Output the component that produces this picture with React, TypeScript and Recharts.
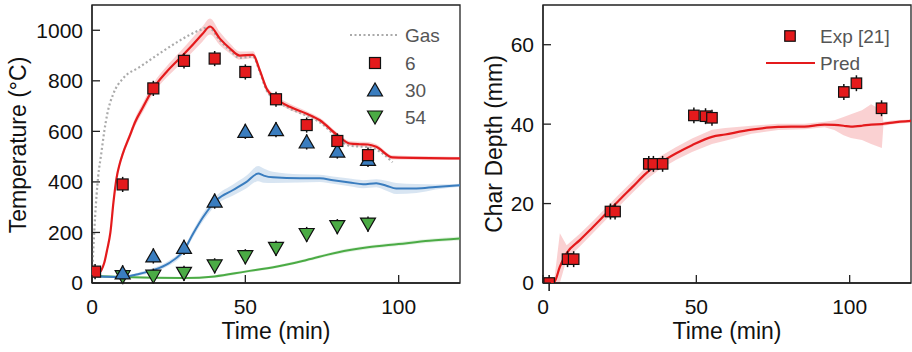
import React from 'react';
import { ComposedChart, Line, Area, Scatter, XAxis, YAxis, ErrorBar, ReferenceArea } from 'recharts';

const FONT = '"Liberation Sans", Arial, Helvetica, sans-serif';
const AXIS = '#222';
const RED = '#e41a1c';
const BLUE = '#3a7dbf';
const GREEN = '#4bab45';
const GAS = '#aaaaaa';

// ---- left panel: temperature ----
const redExpT = [1, 10, 20, 30, 40, 50, 60, 70, 80, 90];
const redExpV = [45, 390, 770, 879, 888, 835, 727, 625, 562, 506];
const blueExpT = [10, 20, 30, 40, 50, 60, 70, 80, 90];
const blueExpV = [40, 107, 141, 324, 600, 607, 558, 522, 489];
const greenExpT = [10, 20, 30, 40, 50, 60, 70, 80, 90];
const greenExpV = [25, 27, 38, 68, 104, 137, 192, 223, 233];
const tempErr = 30;

const gasT = [0, 0.5, 1, 2, 3, 4, 5, 7, 10, 15.6, 22, 28.7, 35, 38, 41.7, 45, 48.2, 52.5, 54.7, 56.9, 60, 64.5, 70, 74.3, 80, 84, 87.3, 90, 92.7, 98];
const gasV = [30, 150, 260, 420, 510, 600, 670, 750, 808, 855, 908, 960, 1000, 1012, 960, 920, 891, 896, 836, 763, 724, 690, 662, 636, 576, 543, 540, 538, 528, 478];

const redT = [0, 2, 3, 4, 5, 6, 7, 8, 9, 10, 12.4, 14, 16.7, 20, 24.3, 28.7, 33, 36, 38.5, 41.7, 45, 48.2, 52.5, 54.7, 56.9, 60, 64.5, 70, 74.3, 80, 84, 87.3, 90, 92.7, 98, 120];
const redV = [28, 38, 50, 80, 135, 200, 320, 415, 470, 510, 585, 635, 697, 770, 835, 890, 945, 985, 1015, 967, 928, 900, 903, 842, 770, 730, 697, 670, 644, 585, 552, 549, 548, 539, 497, 493];
const redW = [8, 8, 8, 8, 10, 10, 12, 12, 12, 12, 14, 16, 18, 20, 22, 25, 28, 30, 32, 26, 20, 16, 14, 12, 12, 12, 12, 10, 10, 10, 10, 10, 10, 10, 8, 6];

const blueT = [0, 5, 10, 15, 20, 25, 30, 33, 36.3, 40.6, 46, 50.4, 54.2, 56, 59, 67.8, 74.3, 78.6, 84, 88.4, 92.7, 96, 99.2, 105.8, 112, 120];
const blueV = [28, 25, 24, 35, 51, 78, 130, 196, 262, 328, 368, 400, 433, 425, 418, 414, 414, 407, 398, 391, 395, 385, 374, 374, 380, 387];
const blueW = [4, 4, 5, 6, 8, 10, 12, 14, 16, 18, 22, 25, 30, 28, 22, 16, 14, 14, 15, 16, 16, 20, 22, 18, 10, 6];

const greenT = [0, 10, 20, 30, 40, 50, 60, 70, 80, 90, 100, 110, 120];
const greenV = [28, 24, 21, 20, 26, 45, 64, 91, 121, 141, 154, 167, 176];
const greenW = [4, 4, 4, 4, 5, 5, 6, 6, 7, 7, 8, 8, 8];

const tempTicks = [0, 200, 400, 600, 800, 1000];
const timeTicks = [0, 50, 100];

// ---- right panel: char depth ----
const charExpT = [2, 8, 10, 22, 23.5, 34.5, 36, 39, 49.2, 53, 55.1, 98.1, 102.2, 110.4];
const charExpV = [0, 6, 6, 18, 18, 30, 30, 30, 42.2, 42, 41.6, 48.1, 50.3, 44];
const charErr = 2;

const charT = [0, 2, 3.7, 5.5, 7.7, 12, 16.3, 20.6, 24.9, 29.2, 33.6, 37.9, 43.3, 48.6, 55.1, 59.4, 68, 76.7, 85.3, 91.8, 95, 98, 100.4, 104, 107, 110.5, 111, 114, 120];
const charV = [0, 0, 0.3, 4.1, 7.5, 10.8, 14.1, 17.5, 20.9, 24.2, 27.6, 30.1, 32.6, 34.7, 36.8, 37.4, 38.6, 39.3, 39.4, 39.9, 39.8, 39.6, 39.4, 39.6, 39.9, 40.0, 40.1, 40.4, 40.8];
const charLow = [0, 0, 0, 0, 6.0, 9.2, 12.6, 16.0, 19.4, 22.7, 26.0, 28.5, 31.0, 33.0, 35.0, 35.8, 37.6, 38.5, 38.7, 39.2, 38.5, 37.2, 36.5, 36, 35, 34, 39.6, 40.0, 40.4];
const charHigh = [0, 0, 1, 12.5, 9.5, 12.4, 15.6, 19.0, 22.4, 25.7, 29.2, 31.7, 34.2, 36.4, 38.6, 39.0, 39.6, 40.1, 40.1, 40.6, 41.0, 41.8, 42.5, 43.5, 45, 43.5, 40.6, 40.9, 41.2];
const depthTicks = [0, 20, 40, 60];

const pts = (ts: number[], vs: number[], err = 0) => ts.map((t, i) => ({ t, v: vs[i], err }));
const halfBand = (ts: number[], vs: number[], ws: number[]) =>
  ts.map((t, i) => ({ t, band: [vs[i] - ws[i], vs[i] + ws[i]] }));

const Square = ({ cx, cy, size = 11 }: any) => (
  <rect x={cx - size / 2} y={cy - size / 2} width={size} height={size} fill={RED} stroke="#111" strokeWidth={1.2} />
);
const TriUp = ({ cx, cy, fill = BLUE }: any) => (
  <polygon points={`${cx},${cy - 7} ${cx - 7.5},${cy + 6} ${cx + 7.5},${cy + 6}`} fill={fill} stroke="#111" strokeWidth={1.2} />
);
const TriDown = ({ cx, cy, fill = GREEN }: any) => (
  <polygon points={`${cx},${cy + 7} ${cx - 7.5},${cy - 6} ${cx + 7.5},${cy - 6}`} fill={fill} stroke="#111" strokeWidth={1.2} />
);

const XTick = ({ x, y, payload }: any) => (
  <g>
    <line x1={x} x2={x} y1={y} y2={y - 8} stroke={AXIS} strokeWidth={1.3} />
    <text x={x} y={y + 31} textAnchor="middle" fontSize={21} fontFamily={FONT} fill="#111">
      {payload.value}
    </text>
  </g>
);
const YTick = ({ x, y, payload }: any) => (
  <g>
    <line x1={x} x2={x + 8} y1={y} y2={y} stroke={AXIS} strokeWidth={1.3} />
    <text x={x - 9} y={y} dy="0.355em" textAnchor="end" fontSize={21} fontFamily={FONT} fill="#111">
      {payload.value}
    </text>
  </g>
);

const title = (txt: string, x: number, y: number, rotate = false) => () => (
  <text
    x={x}
    y={y}
    transform={rotate ? `rotate(-90 ${x} ${y})` : undefined}
    textAnchor="middle"
    fontSize={23}
    fontFamily={FONT}
    fill="#111"
  >
    {txt}
  </text>
);

const legendText = { fontSize: 19, fontFamily: FONT, fill: '#555' };

const TempChart = () => (
  <div style={{ position: 'absolute', left: 0, top: 0, width: 462, height: 352 }}>
    <ComposedChart width={462} height={352} margin={{ top: 5, right: 2, bottom: 0, left: 0 }}>
      <XAxis
        type="number"
        dataKey="t"
        domain={[0, 120]}
        ticks={timeTicks}
        allowDataOverflow
        height={69}
        tickSize={0}
        tickMargin={0}
        tick={<XTick />}
        axisLine={{ stroke: AXIS, strokeWidth: 1.3 }}
        label={title('Time (min)', 276, 339)}
      />
      <YAxis
        type="number"
        domain={[0, 1100]}
        ticks={tempTicks}
        allowDataOverflow
        width={92}
        tickSize={0}
        tickMargin={0}
        tick={<YTick />}
        axisLine={{ stroke: AXIS, strokeWidth: 1.3 }}
        label={title('Temperature (°C)', 26, 145, true)}
      />
      <ReferenceArea x1={0} x2={120} y1={0} y2={1100} fill="none" stroke={AXIS} strokeWidth={1.3} />
      <Area type="monotone" data={halfBand(redT, redV, redW)} dataKey="band" stroke="none" fill={RED} fillOpacity={0.2} isAnimationActive={false} />
      <Area type="monotone" data={halfBand(blueT, blueV, blueW)} dataKey="band" stroke="none" fill={BLUE} fillOpacity={0.2} isAnimationActive={false} />
      <Area type="monotone" data={halfBand(greenT, greenV, greenW)} dataKey="band" stroke="none" fill={GREEN} fillOpacity={0.15} isAnimationActive={false} />
      <Line type="monotone" data={pts(gasT, gasV)} dataKey="v" stroke={GAS} strokeWidth={2.2} strokeDasharray="2 2.5" dot={false} isAnimationActive={false} />
      <Line type="monotone" data={pts(greenT, greenV)} dataKey="v" stroke={GREEN} strokeWidth={2} dot={false} isAnimationActive={false} />
      <Line type="monotone" data={pts(blueT, blueV)} dataKey="v" stroke={BLUE} strokeWidth={2} dot={false} isAnimationActive={false} />
      <Line type="monotone" data={pts(redT, redV)} dataKey="v" stroke={RED} strokeWidth={2.2} dot={false} isAnimationActive={false} />
      <Scatter data={pts(greenExpT, greenExpV, tempErr)} dataKey="v" shape={(p: any) => <TriDown cx={p.cx} cy={p.cy} />} isAnimationActive={false}>
        <ErrorBar dataKey="err" direction="y" width={0} stroke="#111" strokeWidth={1.5} />
      </Scatter>
      <Scatter data={pts(blueExpT, blueExpV, tempErr)} dataKey="v" shape={(p: any) => <TriUp cx={p.cx} cy={p.cy} />} isAnimationActive={false}>
        <ErrorBar dataKey="err" direction="y" width={0} stroke="#111" strokeWidth={1.5} />
      </Scatter>
      <Scatter data={pts(redExpT, redExpV, tempErr)} dataKey="v" shape={(p: any) => <Square cx={p.cx} cy={p.cy} />} isAnimationActive={false}>
        <ErrorBar dataKey="err" direction="y" width={0} stroke="#111" strokeWidth={1.5} />
      </Scatter>
    </ComposedChart>
    <svg width={462} height={352} style={{ position: 'absolute', left: 0, top: 0, pointerEvents: 'none' }}>
      <line x1={350} x2={398} y1={35} y2={35} stroke={GAS} strokeWidth={2.2} strokeDasharray="2 2.5" />
      <text x={405} y={35} dy="0.355em" {...legendText}>Gas</text>
      <Square cx={375} cy={63} />
      <text x={405} y={63} dy="0.355em" {...legendText}>6</text>
      <TriUp cx={375} cy={90} />
      <text x={405} y={90} dy="0.355em" {...legendText}>30</text>
      <TriDown cx={375} cy={117} />
      <text x={405} y={117} dy="0.355em" {...legendText}>54</text>
    </svg>
  </div>
);

const CharChart = () => (
  <div style={{ position: 'absolute', left: 462, top: 0, width: 450, height: 352 }}>
    <ComposedChart width={450} height={352} margin={{ top: 5, right: 1, bottom: 0, left: 0 }}>
      <XAxis
        type="number"
        dataKey="t"
        domain={[0, 120]}
        ticks={timeTicks}
        allowDataOverflow
        height={69}
        tickSize={0}
        tickMargin={0}
        tick={<XTick />}
        axisLine={{ stroke: AXIS, strokeWidth: 1.3 }}
        label={title('Time (min)', 265, 339)}
      />
      <YAxis
        type="number"
        domain={[0, 70]}
        ticks={depthTicks}
        allowDataOverflow
        width={81}
        tickSize={0}
        tickMargin={0}
        tick={<YTick />}
        axisLine={{ stroke: AXIS, strokeWidth: 1.3 }}
        label={title('Char Depth (mm)', 40, 144, true)}
      />
      <ReferenceArea x1={0} x2={120} y1={0} y2={70} fill="none" stroke={AXIS} strokeWidth={1.3} />
      <Area
        data={charT.map((t, i) => ({ t, band: [charLow[i], charHigh[i]] }))}
        dataKey="band"
        stroke="none"
        fill={RED}
        fillOpacity={0.2}
        isAnimationActive={false}
      />
      <Line type="monotone" data={pts(charT, charV)} dataKey="v" stroke={RED} strokeWidth={2.2} dot={false} isAnimationActive={false} />
      <Scatter data={pts(charExpT, charExpV, charErr)} dataKey="v" shape={(p: any) => <Square cx={p.cx} cy={p.cy} size={10.5} />} isAnimationActive={false}>
        <ErrorBar dataKey="err" direction="y" width={0} stroke="#111" strokeWidth={1.5} />
      </Scatter>
    </ComposedChart>
    <svg width={450} height={352} style={{ position: 'absolute', left: 0, top: 0, pointerEvents: 'none' }}>
      <Square cx={328} cy={36} size={10.5} />
      <text x={358} y={36} dy="0.355em" {...legendText}>Exp [21]</text>
      <line x1={304} x2={353} y1={63} y2={63} stroke={RED} strokeWidth={2} />
      <text x={358} y={63} dy="0.355em" {...legendText}>Pred</text>
    </svg>
  </div>
);

export default function App() {
  return (
    <div style={{ position: 'absolute', left: 0, top: 0, width: 912, height: 352, background: '#fff', overflow: 'hidden' }}>
      <TempChart />
      <CharChart />
    </div>
  );
}
